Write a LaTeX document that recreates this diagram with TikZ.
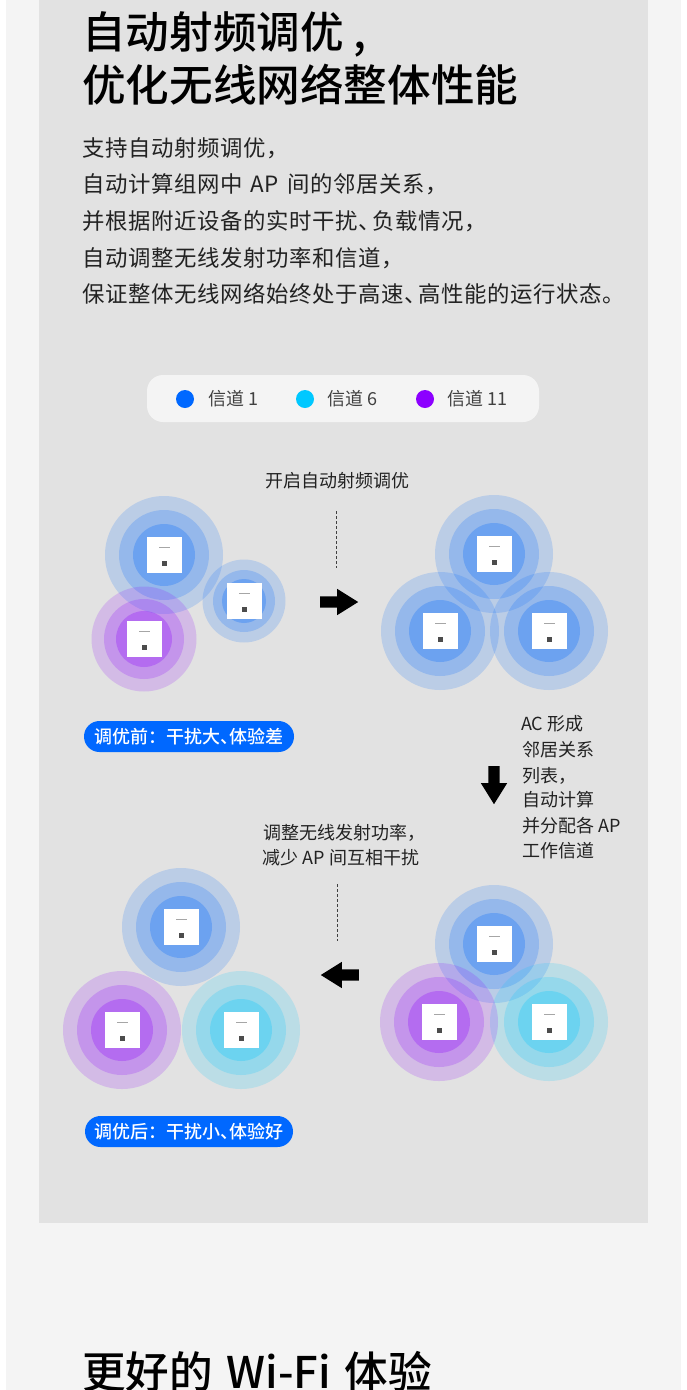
\documentclass[tikz,border=0pt]{standalone}
\usepackage{fontspec}
\setmainfont{Noto Sans CJK SC}
\newfontfamily\titlefont{Noto Sans CJK SC Medium}
\newfontfamily\pillfont{Noto Sans CJK SC Medium}
\newfontfamily\bodyfont[LetterSpace=2.7]{Noto Sans CJK SC}
\newfontfamily\smallfont{Noto Sans CJK SC}
\usetikzlibrary{shapes.arrows}
\definecolor{pagebg}{HTML}{F4F4F4}
\definecolor{panelbg}{HTML}{E2E2E2}
\definecolor{chblue}{HTML}{0068FF}
\definecolor{chcyan}{HTML}{00C8FF}
\definecolor{chpurple}{HTML}{8C00FF}
\definecolor{inkdark}{HTML}{222222}
\tikzset{
  ringo/.style={circle,draw=none,fill=#1,fill opacity=0.17,inner sep=0pt},
  ringm/.style={circle,draw=none,fill=#1,fill opacity=0.2,inner sep=0pt},
  ringi/.style={circle,draw=none,fill=#1,fill opacity=0.27,inner sep=0pt},
  apbody/.style={rectangle,draw=none,fill=white,minimum width=35pt,minimum height=36pt,inner sep=0pt},
  aplogo/.style={rectangle,draw=none,fill=black!35,minimum width=11pt,minimum height=0.8pt,inner sep=0pt},
  apport/.style={rectangle,draw=none,fill=black!70,minimum width=5pt,minimum height=5pt,inner sep=0pt},
  titletext/.style={anchor=west,inner sep=0pt,text=black,font=\titlefont\fontsize{43.6}{44}\selectfont},
  bodytext/.style={anchor=west,inner sep=0pt,text=inkdark,font=\bodyfont\fontsize{22.4}{24}\selectfont},
  smalltext/.style={inner sep=0pt,text=inkdark,font=\smallfont\fontsize{18}{20}\selectfont},
  legendtext/.style={anchor=west,inner sep=0pt,text=black!75,font=\smallfont\fontsize{18}{20}\selectfont},
  dot/.style={circle,fill=#1,draw=none,minimum size=18pt,inner sep=0pt},
  pill/.style={rounded corners=15.5pt,fill=chblue,draw=none,minimum height=31pt,inner sep=0pt,text=white,font=\pillfont\fontsize{18}{20}\selectfont},
  blockarrow/.style={single arrow,fill=black,draw=none,minimum height=38pt,minimum width=26pt,single arrow head extend=7.5pt,single arrow tip angle=64,inner sep=5.5pt,anchor=tail,rotate=#1},
  dashline/.style={draw=black!75,line width=0.8pt,dash pattern=on 3pt off 2pt}
}
% rings: name, x, y, colour, outer, middle, inner diameter
\newcommand{\aprings}[7]{%
  \node[ringo=#4,minimum size=#5pt] (#1o) at (#2,#3) {};
  \node[ringm=#4,minimum size=#6pt] (#1m) at (#2,#3) {};
  \node[ringi=#4,minimum size=#7pt] (#1i) at (#2,#3) {};
}
\newcommand{\apdev}[3]{%
  \node[apbody] (#1) at (#2,#3) {};
  \node[aplogo] (#1l) at ([yshift=8pt]#1.center) {};
  \node[apport] (#1p) at ([yshift=-8pt]#1.center) {};
}
\newcommand{\dn}{、\kern-0.47em}
\newcommand{\dnb}{、\kern-0.38em}
\begin{document}
\begin{tikzpicture}[x=1pt,y=-1pt]
\useasboundingbox (0,0) rectangle (686,1390);
\fill[white] (0,0) rectangle (686,1390);
\fill[pagebg] (6,0) rectangle (681,1390);
\fill[panelbg] (39,0) rectangle (648,1223);

\node[titletext] (t1) at (82,34) {自动射频调优 ,};
\node[titletext] (t2) at (82,85) {优化无线网络整体性能};
\node[bodytext] (b1) at (82,148) {支持自动射频调优，};
\node[bodytext] (b2) at (82,184) {自动计算组网中\kern2.5pt{} AP \kern2.5pt{}间的邻居关系，};
\node[bodytext] (b3) at (82,221) {并根据附近设备的实时干扰\dnb 负载情况，};
\node[bodytext] (b4) at (82,258) {自动调整无线发射功率和信道，};
\node[bodytext] (b5) at (82,294) {保证整体无线网络始终处于高速\dnb 高性能的运行状态。};

\fill[pagebg,rounded corners=16pt] (147,375) rectangle (539,422);
\node[dot=chblue] (d1) at (185,399) {};
\node[dot=chcyan] (d2) at (305,399) {};
\node[dot=chpurple] (d3) at (425,399) {};
\node[legendtext] (l1) at (208,399) {信道 1};
\node[legendtext] (l2) at (327,399) {信道 6};
\node[legendtext] (l3) at (447,399) {信道 11};

\node[smalltext] (step1) at (337,481) {开启自动射频调优};
\coordinate (da1) at (336,511);
\coordinate (da2) at (336,568);
\draw[dashline] (da1) -- (da2);

% before
\aprings{a}{164}{555}{chblue}{118}{90}{62}
\aprings{b}{244}{601}{chblue}{83}{62}{44}
\aprings{c}{144}{639}{chpurple}{105}{80}{56}
\apdev{ad}{164}{555}\apdev{bd}{244}{601}\apdev{cd}{144}{639}

\node[blockarrow=0] (ar1) at (320,602) {};

% all same channel
\aprings{e}{494}{554}{chblue}{118}{90}{62}
\aprings{f}{440}{631}{chblue}{118}{90}{62}
\aprings{g}{549}{631}{chblue}{118}{90}{62}
\apdev{ed}{494}{554}\apdev{fd}{440}{631}\apdev{gd}{549}{631}

\node[pill,minimum width=210pt] (p1) at (189,736.5) {调优前：干扰大\dn 体验差};

\node[smalltext,anchor=west] (r1) at (521,723.5) {AC 形成};
\node[smalltext,anchor=west] (r2) at (522,749.5) {邻居关系};
\node[smalltext,anchor=west] (r3) at (522,775.5) {列表，};
\node[smalltext,anchor=west] (r4) at (522,799.5) {自动计算};
\node[smalltext,anchor=west] (r5) at (522,825.5) {并分配各 AP};
\node[smalltext,anchor=west] (r6) at (522,850.5) {工作信道};

\node[blockarrow=-90] (ar2) at (494,766) {};

\node[smalltext] (m1) at (344,833) {调整无线发射功率，};
\node[smalltext] (m2) at (341,858) {减少 AP 间互相干扰};
\coordinate (db1) at (337,884);
\coordinate (db2) at (337,941);
\draw[dashline] (db1) -- (db2);

% channels assigned
\aprings{h}{494}{944}{chblue}{118}{90}{62}
\aprings{i}{549}{1022}{chcyan}{118}{90}{62}
\aprings{j}{439}{1022}{chpurple}{118}{90}{62}
\apdev{hd}{494}{944}\apdev{id}{549}{1022}\apdev{jd}{439}{1022}

\node[blockarrow=180] (ar3) at (359,975) {};

% after
\aprings{k}{181}{927}{chblue}{118}{90}{62}
\aprings{m}{122}{1030}{chpurple}{118}{90}{62}
\aprings{n}{241}{1030}{chcyan}{118}{90}{62}
\apdev{kd}{181}{927}\apdev{md}{122}{1030}\apdev{nd}{241}{1030}

\node[pill,minimum width=208pt] (p2) at (189,1131.5) {调优后：干扰小\dn 体验好};

\node[titletext,anchor=west] (t3) at (82,1372) {更好的\kern4pt{} Wi-Fi \kern4pt{}体验};
\end{tikzpicture}
\end{document}
